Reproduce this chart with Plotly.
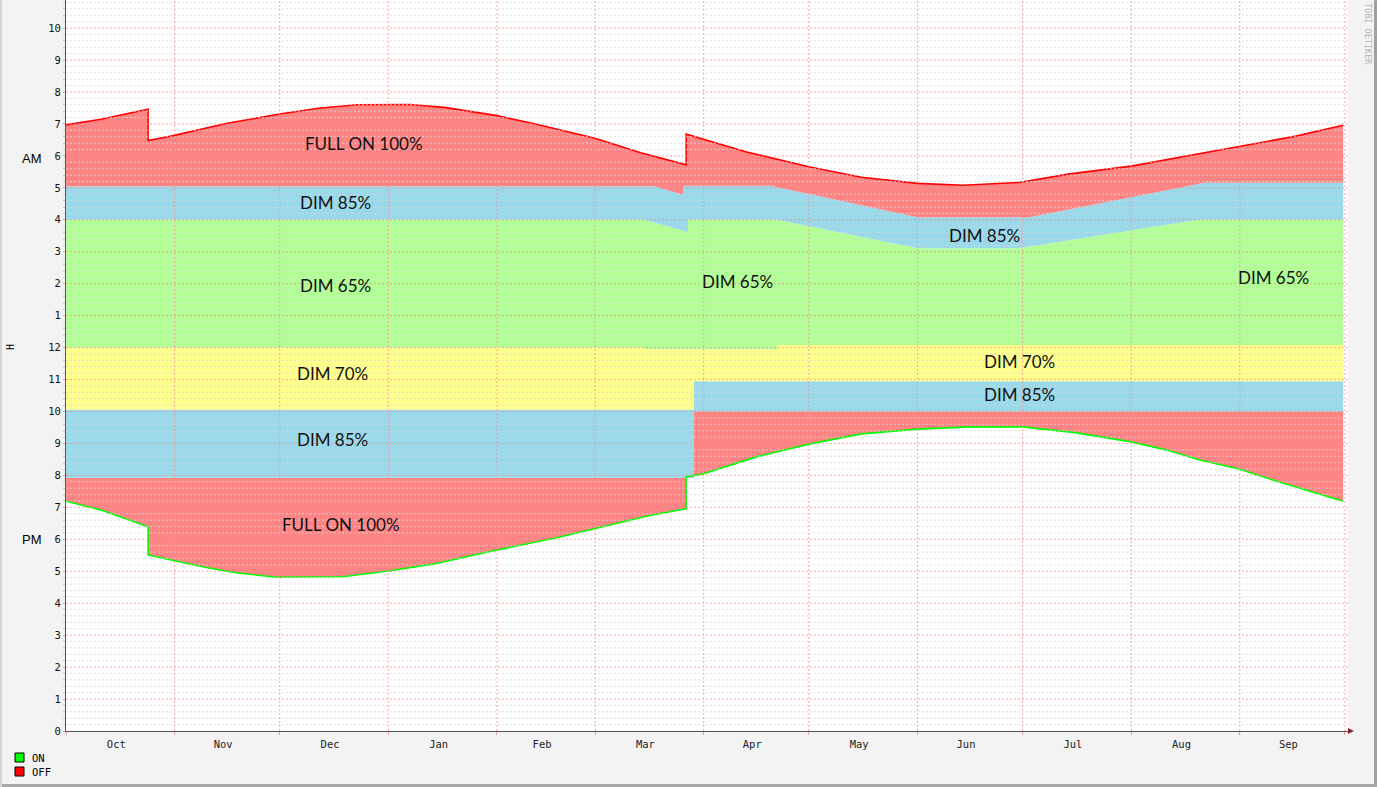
import pandas as pd
import plotly.graph_objects as go

# y axis counts hours from noon: 0..12 = PM, 12..24 = AM of the next morning

# sunrise, AM clock hours (red line)
sunrise_dates = ["2009-10-01", "2009-10-11", "2009-10-24 10:00", "2009-10-24 10:00", "2009-10-31",
                 "2009-11-16", "2009-12-01", "2009-12-12", "2009-12-23", "2010-01-01", "2010-01-07",
                 "2010-01-17", "2010-02-01", "2010-02-11", "2010-03-01", "2010-03-14", "2010-03-27",
                 "2010-03-27", "2010-04-01", "2010-04-13", "2010-05-01", "2010-05-16", "2010-06-01",
                 "2010-06-14", "2010-06-30", "2010-07-14", "2010-08-01", "2010-08-16", "2010-09-01",
                 "2010-09-17", "2010-09-30 12:00"]
sunrise_am = [6.97, 7.15, 7.46, 6.48, 6.62, 7.02, 7.31, 7.49, 7.60, 7.61, 7.61, 7.52, 7.26, 7.02,
              6.55, 6.10, 5.72, 6.68, 6.52, 6.13, 5.66, 5.33, 5.14, 5.08, 5.17, 5.43, 5.68, 5.98,
              6.31, 6.62, 6.96]

# sunset, PM clock hours (green line)
sunset_dates = ["2009-10-01", "2009-10-11", "2009-10-24 10:00", "2009-10-24 10:00", "2009-10-31",
                "2009-11-10", "2009-11-18", "2009-11-30", "2009-12-19", "2010-01-01", "2010-01-14",
                "2010-01-31", "2010-02-18", "2010-03-01", "2010-03-16", "2010-03-27", "2010-03-27",
                "2010-04-01", "2010-04-16", "2010-05-01", "2010-05-16", "2010-06-01", "2010-06-16",
                "2010-07-01", "2010-07-16", "2010-08-01", "2010-08-11", "2010-08-20", "2010-09-01",
                "2010-09-12", "2010-09-22", "2010-09-30 12:00"]
sunset_pm = [7.19, 6.92, 6.39, 5.51, 5.35, 5.12, 4.96, 4.81, 4.83, 5.01, 5.23, 5.64, 6.05, 6.34,
             6.73, 6.96, 7.95, 8.05, 8.58, 8.98, 9.30, 9.45, 9.52, 9.52, 9.34, 9.05, 8.80, 8.50,
             8.19, 7.80, 7.46, 7.19]

# evening dimming steps (axis values)
pm_dates = ["2009-10-01", "2010-03-29 05:00", "2010-03-29 05:00", "2010-09-30 12:00"]
dim85_pm_low = [7.93, 7.93, 10.0, 10.0]
dim70_low = [10.06, 10.06, 10.95, 10.95]

# night / morning steps (axis values)
dim65_low_dates = ["2009-10-01", "2010-03-15", "2010-03-15", "2010-04-22", "2010-04-22", "2010-09-30 12:00"]
dim65_low = [12.0, 12.0, 11.95, 11.95, 12.08, 12.08]
dim65_top_dates = ["2009-10-01", "2010-03-15", "2010-03-27 12:00", "2010-03-27 12:00", "2010-04-22",
                   "2010-06-01", "2010-06-30", "2010-08-20", "2010-09-30 12:00"]
dim65_top = [16.0, 16.0, 15.62, 16.0, 16.0, 15.11, 15.11, 16.0, 16.0]
dim85_am_dates = ["2009-10-01", "2010-03-18", "2010-03-26 06:00", "2010-03-26 06:00", "2010-04-20",
                  "2010-06-01", "2010-07-03", "2010-08-22", "2010-09-30 12:00"]
dim85_am_top = [17.05, 17.05, 16.78, 17.07, 17.07, 16.08, 16.08, 17.16, 17.16]

y_ticks = list(range(23))
y_labels = [str(v if v <= 12 else v - 12) for v in y_ticks]

band_labels = [
    ("2009-12-25", 18.40, "FULL ON 100%"),
    ("2009-12-17", 16.53, "DIM 85%"),
    ("2009-12-17", 13.93, "DIM 65%"),
    ("2009-12-16", 11.20, "DIM 70%"),
    ("2009-12-16", 9.11, "DIM 85%"),
    ("2009-12-18 12:00", 6.45, "FULL ON 100%"),
    ("2010-04-10 18:00", 14.08, "DIM 65%"),
    ("2010-06-20", 15.52, "DIM 85%"),
    ("2010-06-30", 11.58, "DIM 70%"),
    ("2010-06-30", 10.52, "DIM 85%"),
    ("2010-09-10 18:00", 14.18, "DIM 65%"),
]

RED = '#FF8585'
BLUE = '#99D9EA'
GREEN = '#B2FF96'
YELLOW = '#FFFF8C'

sunrise_axis = [h + 12 for h in sunrise_am]


def band(lo_x, lo_y, hi_x, hi_y, color):
    return go.Scatter(
        x=list(lo_x) + list(hi_x)[::-1],
        y=list(lo_y) + list(hi_y)[::-1],
        mode='lines', fill='toself', fillcolor=color,
        line=dict(width=0), hoverinfo='skip', showlegend=False
    )


fig = go.Figure()
fig.add_trace(band(sunset_dates, sunset_pm, pm_dates, dim85_pm_low, RED))
fig.add_trace(band(pm_dates, dim85_pm_low, pm_dates, dim70_low, BLUE))
fig.add_trace(band(pm_dates, dim70_low, dim65_low_dates, dim65_low, YELLOW))
fig.add_trace(band(dim65_low_dates, dim65_low, dim65_top_dates, dim65_top, GREEN))
fig.add_trace(band(dim65_top_dates, dim65_top, dim85_am_dates, dim85_am_top, BLUE))
fig.add_trace(band(dim85_am_dates, dim85_am_top, sunrise_dates, sunrise_axis, RED))

fig.add_trace(go.Scatter(x=sunset_dates, y=sunset_pm, mode='lines',
                         line=dict(color='#00FF00', width=1.6), showlegend=False))
fig.add_trace(go.Scatter(x=sunrise_dates, y=sunrise_axis, mode='lines',
                         line=dict(color='#FF0000', width=1.6), showlegend=False))

# grid drawn over the areas, like rrdtool does
shapes = []
for i in range(1, 115):
    v = i * 0.2
    major = i % 5 == 0
    shapes.append(dict(
        type='line', xref='paper', x0=0, x1=1, yref='y', y0=v, y1=v, layer='above',
        line=dict(color='rgba(240,140,140,0.75)' if major else 'rgba(215,215,215,0.8)',
                  width=1, dash='2px,2px')
    ))
for d in pd.date_range('2009-11-01', '2010-10-01', freq='MS'):
    shapes.append(dict(
        type='line', xref='x', x0=d, x1=d, yref='paper', y0=0, y1=1, layer='above',
        line=dict(color='rgba(240,150,150,0.8)', width=1, dash='2px,2px')
    ))

# helpers for placing things in pixel positions outside the plot
W, H = 1377, 787
L, R, T, B = 66, 29, 0, 56
PW, PH = W - L - R, H - T - B


def px(x):
    return (x - L) / PW


def py(y):
    return (H - B - y) / PH


# x axis arrow
shapes.append(dict(type='path', xref='paper', yref='paper',
                   path=f"M {px(1348)} {py(728)} L {px(1354)} {py(731)} L {px(1348)} {py(734)} Z",
                   fillcolor='#8B2A2A', line=dict(width=0)))
# legend boxes
shapes.append(dict(type='rect', xref='paper', yref='paper', x0=px(15), x1=px(24), y0=py(753), y1=py(762),
                   fillcolor='#00FF00', line=dict(color='#000', width=1)))
shapes.append(dict(type='rect', xref='paper', yref='paper', x0=px(15), x1=px(24), y0=py(767), y1=py(776),
                   fillcolor='#FF0000', line=dict(color='#000', width=1)))
# frame edges
shapes.append(dict(type='rect', xref='paper', yref='paper', x0=px(1374), x1=px(1378), y0=py(-2), y1=py(790),
                   fillcolor='#A0A0A0', line=dict(width=0)))
shapes.append(dict(type='rect', xref='paper', yref='paper', x0=px(-2), x1=px(1378), y0=py(784), y1=py(790),
                   fillcolor='#A8A8A8', line=dict(width=0)))
shapes.append(dict(type='rect', xref='paper', yref='paper', x0=px(-2), x1=px(2), y0=py(-2), y1=py(790),
                   fillcolor='#D4D4D4', line=dict(width=0)))

annotations = []
for xd, yv, txt in band_labels:
    annotations.append(dict(x=xd, y=yv, xref='x', yref='y', text=txt, showarrow=False,
                            font=dict(family='Lato', size=17, color='#111')))


def note(x, y, text, font, **kw):
    d = dict(x=px(x), y=py(y), xref='paper', yref='paper', text=text, showarrow=False,
             xanchor='center', yanchor='middle', font=font)
    d.update(kw)
    return d


annotations += [
    note(32, 158, 'AM', dict(family='Liberation Sans', size=13, color='#000')),
    note(32, 539, 'PM', dict(family='Liberation Sans', size=13, color='#000')),
    note(10, 347, 'H', dict(family='DejaVu Sans Mono', size=10, color='#000'), textangle=-90),
    note(30, 757.5, 'ON', dict(family='DejaVu Sans Mono', size=10.5, color='#000'), xanchor='left'),
    note(30, 771.5, 'OFF', dict(family='DejaVu Sans Mono', size=10.5, color='#000'), xanchor='left'),
    note(1368, 34, 'TOBI OETIKER', dict(family='DejaVu Sans Mono', size=8.5, color='#B8B8B8'), textangle=90),
]

fig.update_layout(
    width=W, height=H,
    margin=dict(l=L, r=R, t=T, b=B),
    paper_bgcolor='#F3F3F3',
    plot_bgcolor='white',
    showlegend=False,
    shapes=shapes,
    annotations=annotations,
    xaxis=dict(
        type='date', range=['2009-10-01', '2010-10-01 21:00'],
        dtick='M1', tick0='2009-10-01', tickformat='%b', ticklabelmode='period',
        ticklabelshift=-4,
        showgrid=False, zeroline=False, showline=True, linecolor='#555', linewidth=1,
        ticks='outside', ticklen=3, tickcolor='#E8A0A0',
        tickfont=dict(family='DejaVu Sans Mono', size=10.5, color='#222')
    ),
    yaxis=dict(
        range=[0, 22.88], tickvals=y_ticks, ticktext=y_labels,
        showgrid=False, zeroline=False, showline=True, linecolor='#555', linewidth=1,
        ticks='outside', ticklen=2, tickcolor='#E8A0A0',
        tickfont=dict(family='DejaVu Sans Mono', size=10.5, color='#111'),
        minor=dict(dtick=0.2, ticks='outside', ticklen=2, tickcolor='#CCCCCC')
    ),
)

# drop the page's default body margin so the figure sits at the window corner
fig.write_html("out.html", config={'displayModeBar': False},
               post_script="document.body.style.margin='0';")
